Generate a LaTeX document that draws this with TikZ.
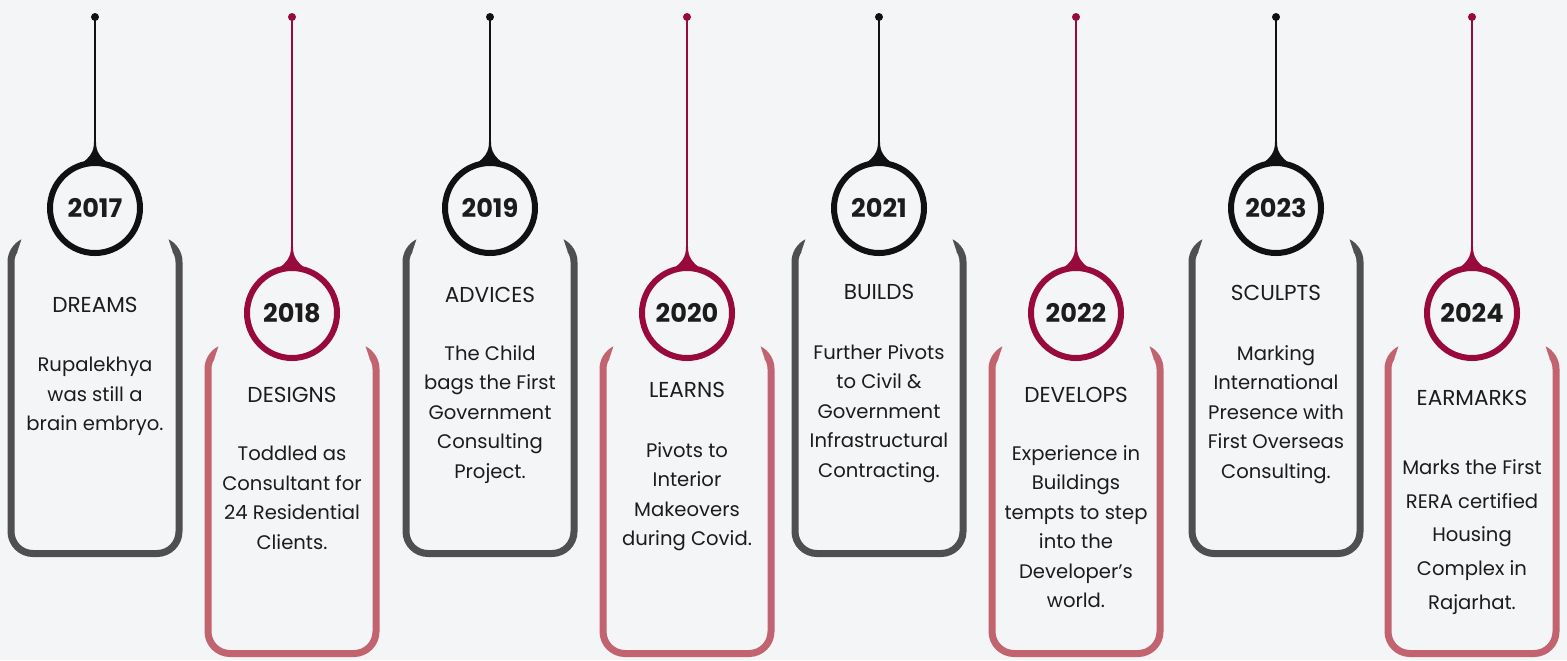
\documentclass[tikz,border=0pt]{standalone}
\usepackage{fontspec}
\setmainfont{Poppins}
\usetikzlibrary{positioning}
\definecolor{fondo}{HTML}{F4F5F7}
\definecolor{negro}{HTML}{111111}
\definecolor{granate}{HTML}{990A3C}
\definecolor{gris}{HTML}{4F4F4F}
\definecolor{rosa}{HTML}{C2646F}
\definecolor{tinta}{HTML}{1C1C1C}
\begin{document}
\begin{tikzpicture}[x=0.5pt, y=0.5pt,
    anio/.style={circle, draw=#1, line width=3pt, fill=fondo, minimum size=45pt,
      inner sep=0pt, text=tinta, font=\bfseries\fontsize{12.8}{13}\selectfont},
    titulo/.style={text=tinta, font=\fontsize{10.8}{12}\selectfont},
    cuerpo/.style={text=tinta, align=center, anchor=north, inner sep=0pt,
      font=\fontsize{9.8}{#1}\selectfont},
    marco/.style={draw=#1, line width=3.5pt}]
    %------------Fondo------------------
    \fill[fondo] (0,0) rectangle (1567,-660);
    \useasboundingbox (0,0) rectangle (1567,-660);
    %------------Hitos------------------
    \foreach \cx/\lv/\yr/\ty/\by/\ls/\ttl/\txt in {
        95/0/2017/305/365/14.75/DREAMS/{Rupalekhya\\was still a\\brain embryo.},
        292/1/2018/395/454/14.75/DESIGNS/{Toddled as\\Consultant for\\24 Residential\\Clients.},
        490/0/2019/295/353/14.75/ADVICES/{The Child\\bags the First\\Government\\Consulting\\Project.},
        687/1/2020/390/450/14.75/LEARNS/{Pivots to\\Interior\\Makeovers\\during Covid.},
        879/0/2021/292/352/14.75/BUILDS/{Further Pivots\\to Civil \&\\Government\\Infrastructural\\Contracting.},
        1076/1/2022/395/453/14.75/DEVELOPS/{Experience in\\Buildings\\tempts to step\\into the\\Developer’s\\world.},
        1276/0/2023/293/353/14.75/SCULPTS/{Marking\\International\\Presence with\\First Overseas\\Consulting.},
        1472/1/2024/398/467/16.85/EARMARKS/{Marks the First\\RERA certified\\Housing\\Complex in\\Rajarhat.}} {
        \ifnum\lv=0 \def\cc{negro}\def\bc{gris}\def\cy{208}\def\tip{240}\def\bot{557}
        \else \def\cc{granate}\def\bc{rosa}\def\cy{313}\def\tip{347}\def\bot{657}\fi
        \pgfmathsetmacro\xl{\cx-84}
        \pgfmathsetmacro\xr{\cx+84}
        \pgfmathsetmacro\yc{-\tip-22}
        \pgfmathsetmacro\yb{-\bot+3.5}
        %------------Tarjeta----------------
        \draw[marco=\bc] ([shift={(148:22)}]\xl+22,\yc) arc[start angle=148, end angle=180, radius=22]
            -- (\xl,\yb+22) arc[start angle=180, end angle=270, radius=22]
            -- (\xr-22,\yb) arc[start angle=270, end angle=360, radius=22]
            -- (\xr,\yc) arc[start angle=0, end angle=32, radius=22];
        \fill[\bc] ([shift={(150:25.5)}]\xl+22,\yc) arc[start angle=150, end angle=117, radius=25.5]
            .. controls ([shift={(132:20.5)}]\xl+22,\yc) .. ([shift={(150:18.5)}]\xl+22,\yc) -- cycle;
        \fill[\bc] ([shift={(30:25.5)}]\xr-22,\yc) arc[start angle=30, end angle=63, radius=25.5]
            .. controls ([shift={(48:20.5)}]\xr-22,\yc) .. ([shift={(30:18.5)}]\xr-22,\yc) -- cycle;
        %------------Circulo y colgante-----
        \node[anio=\cc] (c\yr) at (\cx,-\cy) {\yr};
        \coordinate (p\yr) at (\cx,-17);
        \fill[\cc] (p\yr) circle[radius=4];
        \draw[\cc, line width=1pt] (p\yr) -- (c\yr.north);
        \fill[\cc] ([shift={(-1,18)}]c\yr.north) .. controls ([shift={(-1,8)}]c\yr.north) and ([shift={(-5,3)}]c\yr.north) .. ([shift={(-14,-4)}]c\yr.north)
            -- ([shift={(14,-4)}]c\yr.north) .. controls ([shift={(5,3)}]c\yr.north) and ([shift={(1,8)}]c\yr.north) .. ([shift={(1,18)}]c\yr.north) -- cycle;
        %------------Textos-----------------
        \node[titulo] (t\yr) at (\cx,-\ty) {\ttl};
        \node[cuerpo=\ls] (b\yr) at (\cx,-\by+8) {\txt};
    }
\end{tikzpicture}
\end{document}
